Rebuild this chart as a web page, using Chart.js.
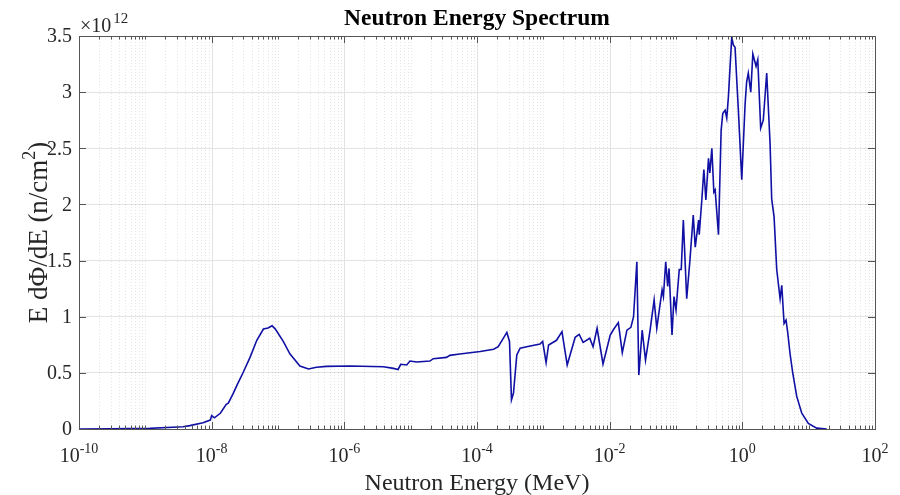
<!DOCTYPE html>
<html>
<head>
<meta charset="utf-8">
<script src="https://cdn.jsdelivr.net/npm/chart.js@4/dist/chart.umd.min.js"></script>
<style>
  html, body { margin: 0; padding: 0; background: #fff; }
</style>
</head>
<body>
<canvas id="spectrum" width="900" height="495"></canvas>
<script>
// neutron energy (MeV)
const energy = [
  1e-10, 3.16e-10, 1.17e-9, 3.72e-9, 4.68e-9, 7.41e-9, 9.55e-9, 1.0e-8, 1.10e-8, 1.35e-8,
  1.66e-8, 1.78e-8, 2.09e-8, 2.45e-8, 3.02e-8, 3.80e-8, 4.79e-8, 6.03e-8, 7.08e-8, 8.13e-8,
  9.12e-8, 1.20e-7, 1.51e-7, 2.14e-7, 2.88e-7, 3.80e-7, 5.37e-7, 1.23e-6, 3.89e-6, 5.50e-6,
  6.46e-6, 7.08e-6, 8.71e-6, 9.77e-6, 1.23e-5, 1.95e-5, 2.19e-5, 3.47e-5, 3.89e-5, 5.50e-5,
  1.12e-4, 1.78e-4, 2.09e-4, 2.82e-4, 3.09e-4, 3.31e-4, 3.55e-4, 3.98e-4, 4.47e-4, 5.62e-4,
  8.91e-4, 9.77e-4, 1.10e-3, 1.20e-3, 1.58e-3, 1.91e-3, 2.29e-3, 3.02e-3, 3.47e-3, 3.98e-3,
  5.01e-3, 5.62e-3, 6.46e-3, 7.94e-3, 1.02e-2, 1.15e-2, 1.35e-2, 1.55e-2, 1.82e-2, 2.09e-2,
  2.29e-2, 2.57e-2, 2.75e-2, 3.09e-2, 3.47e-2, 4.07e-2, 4.68e-2, 5.13e-2, 6.17e-2, 6.46e-2,
  7.00e-2, 7.50e-2, 7.85e-2, 8.71e-2, 9.33e-2, 0.100, 0.112, 0.120, 0.129, 0.145,
  0.162, 0.182, 0.195, 0.219, 0.224, 0.245, 0.263, 0.282, 0.309, 0.324,
  0.347, 0.372, 0.389, 0.437, 0.479, 0.507, 0.550, 0.582, 0.617, 0.692,
  0.731, 0.776, 0.871, 0.98, 1.10, 1.16, 1.23, 1.34, 1.44, 1.61,
  1.71, 1.89, 2.07, 2.33, 2.62, 2.77, 3.01, 3.30, 3.71, 3.93,
  4.26, 4.56, 4.83, 5.24, 5.75, 6.61, 7.87, 9.89, 13.2, 18.7
];
// E dPhi/dE in units of 1e12 n/cm^2
const flux = [
  0.0, 0.001, 0.006, 0.02, 0.03, 0.056, 0.08, 0.12, 0.10, 0.14,
  0.22, 0.23, 0.31, 0.40, 0.51, 0.64, 0.79, 0.89, 0.90, 0.92,
  0.89, 0.78, 0.67, 0.56, 0.534, 0.55, 0.558, 0.561, 0.555, 0.54,
  0.53, 0.576, 0.57, 0.605, 0.597, 0.605, 0.626, 0.638, 0.656, 0.668,
  0.69, 0.71, 0.733, 0.86, 0.78, 0.26, 0.32, 0.66, 0.72, 0.733,
  0.757, 0.78, 0.59, 0.748, 0.79, 0.867, 0.57, 0.817, 0.843, 0.772,
  0.808, 0.733, 0.897, 0.579, 0.837, 0.888, 0.947, 0.68, 0.88, 0.905,
  1.0, 1.49, 0.48, 0.88, 0.614, 0.88, 1.15, 0.897, 1.24, 1.18,
  1.49, 1.27, 1.43, 0.837, 1.18, 1.06, 1.42, 1.42, 1.86, 1.16,
  1.5, 1.905, 1.62, 1.86, 1.73, 2.04, 2.31, 2.04, 2.41, 2.28,
  2.5, 2.11, 2.13, 1.73, 2.66, 2.81, 2.84, 2.77, 2.96, 3.49,
  3.42, 3.40, 2.84, 2.22, 2.89, 3.09, 3.17, 3.0, 3.34, 3.23,
  3.29, 2.68, 2.75, 3.17, 2.54, 2.05, 1.89, 1.42, 1.16, 1.28,
  0.94, 0.97, 0.86, 0.67, 0.50, 0.29, 0.14, 0.05, 0.008, 0.0
];
const yTicks = [0, 0.5, 1, 1.5, 2, 2.5, 3, 3.5];
const yTickLabels = ['0', '0.5', '1', '1.5', '2', '2.5', '3', '3.5'];
const xTickExps = [-10, -8, -6, -4, -2, 0, 2];

const serif = '"Liberation Serif", "Times New Roman", serif';

// every 1..9 x 10^k position for grid lines and minor ticks
const xGridVals = [];
for (let k = -10; k < 2; k++) {
  for (let m = 1; m < 10; m++) xGridVals.push(m * Math.pow(10, k));
}
xGridVals.push(100);

function isMajor(v) {
  const e = Math.round(Math.log10(v));
  return Math.abs(v - Math.pow(10, e)) / v < 1e-6 && e % 2 === 0;
}

// draws base text with a raised exponent, anchored by align
function supText(c, base, sup, x, y, size, supSize, gap, align) {
  c.font = size + 'px ' + serif;
  const wb = c.measureText(base).width;
  c.font = supSize + 'px ' + serif;
  const ws = c.measureText(sup).width;
  let x0 = x;
  if (align === 'center') x0 = x - (wb + gap + ws) / 2;
  c.textAlign = 'left';
  c.textBaseline = 'alphabetic';
  c.font = size + 'px ' + serif;
  c.fillText(base, x0, y);
  c.font = supSize + 'px ' + serif;
  c.fillText(sup, x0 + wb + gap, y - size * 0.45);
}

const frame = {
  id: 'frame',
  beforeDatasetsDraw(chart) {
    const c = chart.ctx, a = chart.chartArea, xs = chart.scales.x;
    c.save();
    c.lineWidth = 1;
    xGridVals.forEach(v => {
      const px = Math.round(xs.getPixelForValue(v)) + 0.5;
      c.beginPath();
      if (isMajor(v)) {
        c.strokeStyle = '#e2e2e2';
        c.setLineDash([]);
      } else {
        c.strokeStyle = 'rgba(0,0,0,0.1)';
        c.setLineDash([1, 2]);
      }
      c.moveTo(px, a.top);
      c.lineTo(px, a.bottom);
      c.stroke();
    });
    c.restore();
  },
  afterDatasetsDraw(chart) {
    const c = chart.ctx, a = chart.chartArea;
    const xs = chart.scales.x, ys = chart.scales.y;
    c.save();
    c.strokeStyle = '#555555';
    c.lineWidth = 1;
    c.setLineDash([]);
    // box
    c.strokeRect(Math.round(a.left) + 0.5, Math.round(a.top) + 0.5,
      Math.round(a.right - a.left), Math.round(a.bottom - a.top));
    // x ticks, inward, bottom and top
    xGridVals.forEach(v => {
      const px = Math.round(xs.getPixelForValue(v)) + 0.5;
      const len = isMajor(v) ? 7 : 3.5;
      c.beginPath();
      c.moveTo(px, a.bottom);
      c.lineTo(px, a.bottom - len);
      c.moveTo(px, a.top);
      c.lineTo(px, a.top + len);
      c.stroke();
    });
    // y ticks
    yTicks.forEach(v => {
      const py = Math.round(ys.getPixelForValue(v)) + 0.5;
      c.beginPath();
      c.moveTo(a.left, py);
      c.lineTo(a.left + 7, py);
      c.moveTo(a.right, py);
      c.lineTo(a.right - 7, py);
      c.stroke();
    });

    c.fillStyle = '#262626';
    // y tick labels
    c.font = '20px ' + serif;
    c.textAlign = 'right';
    c.textBaseline = 'middle';
    yTicks.forEach((v, i) => {
      c.fillText(yTickLabels[i], a.left - 7, ys.getPixelForValue(v) + 1);
    });
    // x tick labels
    xTickExps.forEach(e => {
      supText(c, '10', String(e), xs.getPixelForValue(Math.pow(10, e)), a.bottom + 33, 20, 14, 0, 'center');
    });
    // exponent multiplier
    supText(c, '\u00d710', '12', a.left + 1, a.top - 4, 20, 15, 2, 'left');

    // title
    c.fillStyle = '#000';
    c.font = 'bold 23.5px ' + serif;
    c.textAlign = 'center';
    c.textBaseline = 'alphabetic';
    c.fillText('Neutron Energy Spectrum', (a.left + a.right) / 2, 25);

    // x axis title
    c.fillStyle = '#262626';
    c.font = '24px ' + serif;
    c.fillText('Neutron Energy (MeV)', (a.left + a.right) / 2, 490);

    // y axis title, rotated
    c.translate(47, (a.top + a.bottom) / 2);
    c.rotate(-Math.PI / 2);
    c.font = '27px ' + serif;
    const base = 'E d\u03a6/dE (n/cm';
    const wb = c.measureText(base).width;
    c.font = '18px ' + serif;
    const ws = c.measureText('2').width;
    c.font = '27px ' + serif;
    const wc = c.measureText(')').width;
    const x0 = -(wb + ws + wc) / 2;
    c.textAlign = 'left';
    c.fillText(base, x0, 0);
    c.font = '18px ' + serif;
    c.fillText('2', x0 + wb, -12);
    c.font = '27px ' + serif;
    c.fillText(')', x0 + wb + ws, 0);
    c.restore();
  }
};

const ctx = document.getElementById('spectrum').getContext('2d');
const chart = new Chart(ctx, {
  type: 'scatter',
  data: {
    datasets: [{
      data: energy.map((e, i) => ({ x: e, y: flux[i] })),
      showLine: true,
      borderColor: '#1010a4',
      borderWidth: 1.6,
      pointRadius: 0,
      tension: 0
    }]
  },
  options: {
    responsive: false,
    animation: false,
    layout: { padding: { left: 79, top: 36, right: 25, bottom: 66 } },
    plugins: { legend: { display: false }, tooltip: { enabled: false } },
    scales: {
      x: {
        type: 'logarithmic',
        min: 1e-10,
        max: 100,
        afterBuildTicks: s => { s.ticks = xGridVals.map(v => ({ value: v })); },
        afterFit: s => { s.height = 0; },
        ticks: { display: false },
        grid: { display: false },
        border: { display: false }
      },
      y: {
        min: 0,
        max: 3.5,
        afterBuildTicks: s => { s.ticks = yTicks.map(v => ({ value: v })); },
        afterFit: s => { s.width = 0; },
        ticks: { display: false },
        grid: { color: '#e3e3e3', drawTicks: false },
        border: { display: false }
      }
    }
  },
  plugins: [frame]
});
</script>
</body>
</html>
